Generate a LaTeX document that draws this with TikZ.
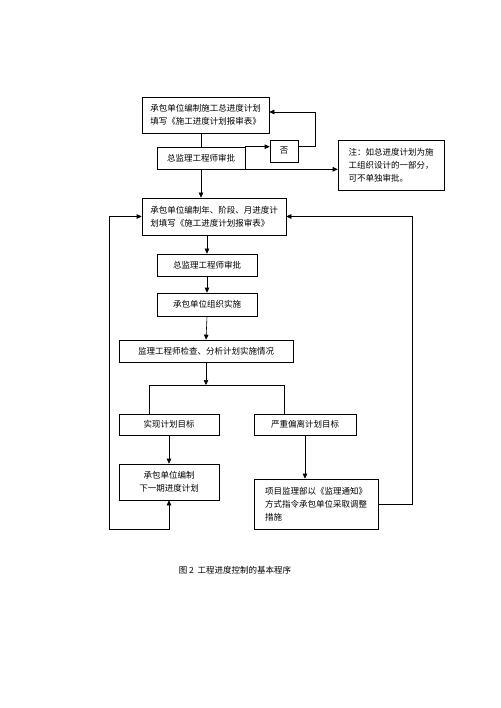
\documentclass[tikz,border=0pt]{standalone}
\usepackage{fontspec}
\newfontfamily\cjk{Noto Sans CJK SC}
\usetikzlibrary{arrows.meta}
\tikzset{
  box/.style={draw, line width=.6pt, font=\cjk\fontsize{8.5}{13}\selectfont, inner sep=2pt, align=left},
  link/.style={line width=.6pt},
  arr/.style={link, -{Triangle[length=5pt,width=4.5pt]}},
}
\begin{document}
\begin{tikzpicture}[x=1pt,y=-1pt]
\fill[white] (0,0) rectangle (500,708);
\useasboundingbox (0,0) rectangle (500,708);
\node[box, minimum width=127pt, minimum height=36pt] (plan1) at (205.5,115) {承包单位编制施工总进度计划\\填写《施工进度计划报审表》};
\node[box, minimum width=88pt, minimum height=22pt] (approve1) at (201,158) {总监理工程师审批};
\node[box, minimum width=28pt, minimum height=22pt] (no) at (284,151) {否};
\node[box, minimum width=106pt, minimum height=50pt] (note) at (391,165) {注：如总进度计划为施\\工组织设计的一部分，\\可不单独审批。};
\node[box, minimum width=144pt, minimum height=37pt] (plan2) at (214,216.5) {承包单位编制年、阶段、月进度计\\划填写《施工进度计划报审表》};
\node[box, minimum width=100pt, minimum height=22pt] (approve2) at (207,265) {总监理工程师审批};
\node[box, minimum width=100pt, minimum height=23pt] (implement) at (207,304.5) {承包单位组织实施};
\node[box, minimum width=174pt, minimum height=22pt] (check) at (206,351) {监理工程师检查、分析计划实施情况};
\node[box, minimum width=100pt, minimum height=21pt] (reach) at (169,424.5) {实现计划目标};
\node[box, minimum width=102pt, minimum height=21pt] (deviate) at (305,424.5) {严重偏离计划目标};
\node[box, align=center, minimum width=100pt, minimum height=36pt] (next) at (169,482) {承包单位编制\\下一期进度计划};
\node[box, minimum width=124pt, minimum height=50pt] (notice) at (316,504) {项目监理部以《监理通知》\\方式指令承包单位采取调整\\措施};
\node[font=\cjk\fontsize{8.5}{10}\selectfont] (caption) at (235,570) {图 2\ \ 工程进度控制的基本程序};
\coordinate (noturn) at (315,112);
\coordinate (splitL) at (149,385);
\coordinate (splitR) at (284,385);
\coordinate (loopR) at (412,216.5);
\coordinate (loopL) at (109,529);
\draw[link] (plan1.south -| approve1.north) -- (approve1.north);
\draw[arr] (approve1.north east) -- (approve1.north east -| no.west);
\draw[arr] (no.east |- approve1.north) -| (noturn) -- (noturn -| plan1.east);
\draw[arr] (approve1.south east) -- (approve1.south east -| note.west);
\draw[arr] (approve1.south) -- (approve1.south |- plan2.north);
\draw[arr] (plan2.south -| approve2.north) -- (approve2.north);
\draw[arr] (approve2.south) -- (implement.north);
\draw[arr] (implement.south) -- (check.north);
\draw[arr] (check.south) -- (check.south |- splitL);
\draw[link] (splitL) -- (splitR);
\draw[link] (splitL) -- (splitL |- reach.north);
\draw[link] (splitR) -- (splitR |- deviate.north);
\draw[arr] (reach.south) -- (next.north);
\draw[arr] (deviate.south) -- (deviate.south |- notice.north);
\draw[arr] (notice.east) -| (loopR) -- (plan2.east);
\draw[arr, {Triangle[length=5pt,width=4.5pt]}-{Triangle[length=5pt,width=4.5pt]}] (next.south) -- (next.south |- loopL) -- (loopL) |- (plan2.west);
\end{tikzpicture}
\end{document}
